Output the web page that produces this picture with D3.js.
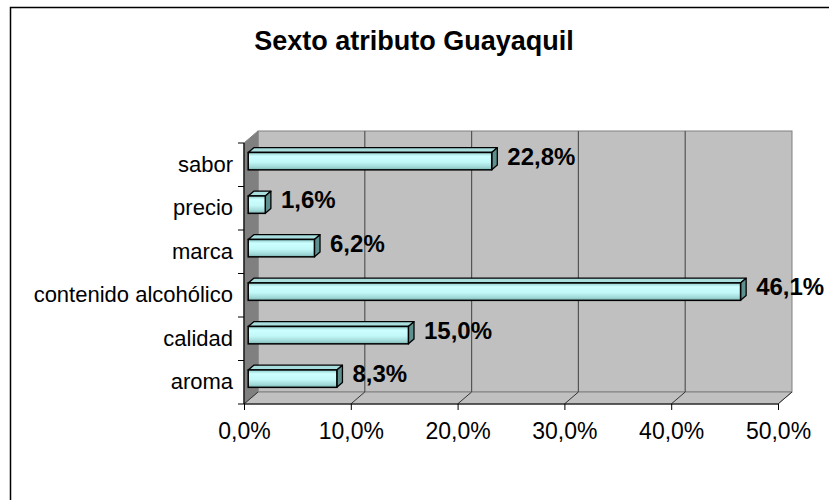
<!DOCTYPE html>
<html>
<head>
<meta charset="utf-8">
<script src="https://cdn.jsdelivr.net/npm/d3@7"></script>
<style>
  html, body { margin: 0; padding: 0; background: #fff; }
  svg { display: block; }
  text { font-family: "Liberation Sans", Arial, sans-serif; fill: #000; }
</style>
</head>
<body>
<svg id="chart" width="829" height="500"></svg>
<script>
const title = "Sexto atributo Guayaquil";
const categories = ["sabor", "precio", "marca", "contenido alcohólico", "calidad", "aroma"];
const values = [0.228, 0.016, 0.062, 0.461, 0.150, 0.083];
const valueLabels = ["22,8%", "1,6%", "6,2%", "46,1%", "15,0%", "8,3%"];
const tickValues = [0, 0.1, 0.2, 0.3, 0.4, 0.5];
const tickLabels = ["0,0%", "10,0%", "20,0%", "30,0%", "40,0%", "50,0%"];

const svg = d3.select("#chart");

// outer chart frame
svg.append("rect").attr("x", 10.5).attr("y", 7.5).attr("width", 840).attr("height", 520)
  .attr("fill", "#fff").attr("stroke", "#000").attr("stroke-width", 1.5);

// title
svg.append("text").attr("x", 414).attr("y", 50).attr("text-anchor", "middle")
  .style("font-size", "27px").style("font-weight", "bold").text(title);

// scales
const x = d3.scaleLinear().domain([0, 0.5]).range([244, 778]);
const y = d3.scaleBand().domain(categories).range([143, 404]).padding(0);
const DX = 14, DY = -12;            // full depth offset of the 3-D box
const f1 = 0.3, f2 = 0.7;            // bar depth slot
const x0 = x(0), x1 = x(0.5), yTop = 143, yBot = 404;

// back wall
svg.append("rect").attr("x", x0 + DX).attr("y", yTop + DY)
  .attr("width", x1 - x0).attr("height", yBot - yTop)
  .attr("fill", "#c0c0c0").attr("stroke", "#808080").attr("stroke-width", 1);

// left wall
svg.append("path")
  .attr("d", `M${x0},${yTop}L${x0 + DX},${yTop + DY}L${x0 + DX},${yBot + DY}L${x0},${yBot}Z`)
  .attr("fill", "#808080").attr("stroke", "#808080").attr("stroke-width", 1);

// floor
svg.append("path")
  .attr("d", `M${x0},${yBot}L${x0 + DX},${yBot + DY}L${x1 + DX},${yBot + DY}L${x1},${yBot}Z`)
  .attr("fill", "#c0c0c0").attr("stroke", "#808080").attr("stroke-width", 1);

// gridlines on back wall + floor diagonals
tickValues.forEach(t => {
  const gx = x(t);
  if (t > 0 && t < 0.5) {
    svg.append("line").attr("x1", gx + DX).attr("x2", gx + DX)
      .attr("y1", yTop + DY).attr("y2", yBot + DY)
      .attr("stroke", "#555").attr("stroke-width", 1.2);
  }
  svg.append("line").attr("x1", gx).attr("y1", yBot).attr("x2", gx + DX).attr("y2", yBot + DY)
    .attr("stroke", "#333").attr("stroke-width", 1);
});

// axes (front)
const xAxis = d3.axisBottom(x).tickValues(tickValues).tickSize(6).tickPadding(6)
  .tickFormat((d, i) => tickLabels[i]);
const gx = svg.append("g").attr("transform", `translate(0,${yBot})`).call(xAxis);
gx.select(".domain").attr("stroke", "#000").attr("stroke-width", 1.2).attr("d", `M${x0},0H${x1}`);
gx.selectAll(".tick line").attr("stroke", "#000");
gx.selectAll(".tick text").style("font-size", "23px").style("font-family", '"Liberation Sans", Arial, sans-serif')
  .attr("y", 0).attr("dy", 0).attr("transform", "translate(0,35)");

const gy = svg.append("g").attr("transform", `translate(${x0},0)`);
gy.append("line").attr("x1", 0).attr("x2", 0).attr("y1", yTop).attr("y2", yBot)
  .attr("stroke", "#000").attr("stroke-width", 1.2);
const bounds = categories.map(c => y(c)).concat([yBot]);
gy.selectAll("line.tk").data(bounds).join("line").attr("class", "tk")
  .attr("x1", -6).attr("x2", 0).attr("y1", d => d).attr("y2", d => d)
  .attr("stroke", "#000").attr("stroke-width", 1);
gy.selectAll("text.cat").data(categories).join("text").attr("class", "cat")
  .attr("x", -11).attr("y", d => y(d) + y.bandwidth() / 2 + 7)
  .attr("text-anchor", "end").style("font-size", "22px").text(d => d);

// bar gradient
const defs = svg.append("defs");
const grad = defs.append("linearGradient").attr("id", "barFront")
  .attr("x1", 0).attr("y1", 0).attr("x2", 0).attr("y2", 1);
[[0, "#8ecaca"], [0.22, "#ccffff"], [0.55, "#c2f8f8"], [0.85, "#9fd6d6"], [1, "#78b0b0"]]
  .forEach(([o, c]) => grad.append("stop").attr("offset", o).attr("stop-color", c));

// bars
const barH = y.bandwidth() * 0.4;
const data = categories.map((c, i) => ({ c, v: values[i], label: valueLabels[i] }));
const bars = svg.append("g").selectAll("g").data(data).join("g");
bars.each(function (d) {
  const g = d3.select(this);
  const cy = y(d.c) + y.bandwidth() / 2;
  const fx0 = x(0) + DX * f1, fx1 = x(d.v) + DX * f1;
  const fy0 = cy - barH / 2 + DY * f1, fy1 = cy + barH / 2 + DY * f1;
  const ddx = DX * (f2 - f1), ddy = DY * (f2 - f1);
  // top face
  g.append("path")
    .attr("d", `M${fx0},${fy0}L${fx0 + ddx},${fy0 + ddy}L${fx1 + ddx},${fy0 + ddy}L${fx1},${fy0}Z`)
    .attr("fill", "#a9dede").attr("stroke", "#000").attr("stroke-width", 1.3).attr("stroke-linejoin", "round");
  // right face
  g.append("path")
    .attr("d", `M${fx1},${fy0}L${fx1 + ddx},${fy0 + ddy}L${fx1 + ddx},${fy1 + ddy}L${fx1},${fy1}Z`)
    .attr("fill", "#5f9090").attr("stroke", "#000").attr("stroke-width", 1.3).attr("stroke-linejoin", "round");
  // front face
  g.append("rect").attr("x", fx0).attr("y", fy0).attr("width", fx1 - fx0).attr("height", fy1 - fy0)
    .attr("fill", "url(#barFront)").attr("stroke", "#000").attr("stroke-width", 1.5);
  // value label
  g.append("text").attr("x", x(d.v) + DX * f2 + 10).attr("y", cy)
    .style("font-size", "24px").style("font-weight", "bold").text(d.label);
});
</script>
</body>
</html>
